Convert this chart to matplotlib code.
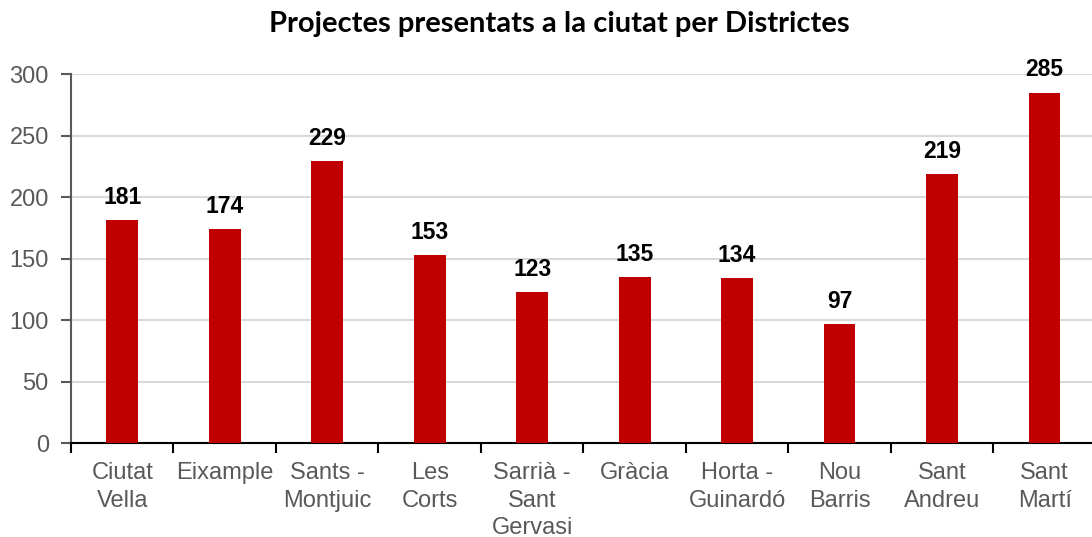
import matplotlib.pyplot as plt

# Data
districtes = ['Ciutat\nVella', 'Eixample', 'Sants -\nMontjuic', 'Les\nCorts', 'Sarrià -\nSant\nGervasi',
              'Gràcia', 'Horta -\nGuinardó', 'Nou\nBarris', 'Sant\nAndreu', 'Sant\nMartí']
projectes = [181, 174, 229, 153, 123, 135, 134, 97, 219, 285]
y_ticks = [0, 50, 100, 150, 200, 250, 300]

fig = plt.figure(figsize=(10.92, 5.37), dpi=100)
ax = fig.add_axes([0.065, 0.175, 0.9385, 0.687])

x = list(range(len(districtes)))
bars = ax.bar(x, projectes, width=0.31, color='#C00000', zorder=3)

# Value labels on top of the bars
for xi, v in zip(x, projectes):
    ax.annotate(str(v), (xi, v), xytext=(0, 8), textcoords='offset points',
                ha='center', va='bottom', fontsize=16.5, fontweight='bold',
                family='Liberation Sans', color='black')

ax.set_xlim(-0.5, len(districtes) - 0.5)
ax.set_ylim(0, 300)
ax.set_yticks(y_ticks)
ax.yaxis.grid(True, color='#D9D9D9', linewidth=1.5, zorder=0)
ax.set_axisbelow(True)

# Ticks on the category boundaries, labels in the middle
ax.set_xticks([i + 0.5 for i in x[:-1]] + [-0.5])
ax.set_xticklabels([])
ax.set_xticks(x, minor=True)
ax.set_xticklabels(districtes, minor=True, fontsize=17, family='Liberation Sans',
                   color='#595959', linespacing=1.3, va='top')
ax.tick_params(axis='x', which='major', length=7, width=1.5, color='black', direction='out')
ax.tick_params(axis='x', which='minor', length=0, pad=14)
ax.tick_params(axis='y', length=7, width=1.5, color='#595959', pad=9)
for lbl in ax.get_yticklabels():
    lbl.set_fontsize(17)
    lbl.set_family('Liberation Sans')
    lbl.set_color('#595959')

for s in ['top', 'right']:
    ax.spines[s].set_visible(False)
ax.spines['left'].set_color('#595959')
ax.spines['left'].set_linewidth(1.5)
ax.spines['bottom'].set_color('black')
ax.spines['bottom'].set_linewidth(1.5)

fig.suptitle('Projectes presentats a la ciutat per Districtes', x=0.512, y=0.98,
             fontsize=21, fontweight='bold', family='Lato')

plt.savefig('out.png', dpi=100)
